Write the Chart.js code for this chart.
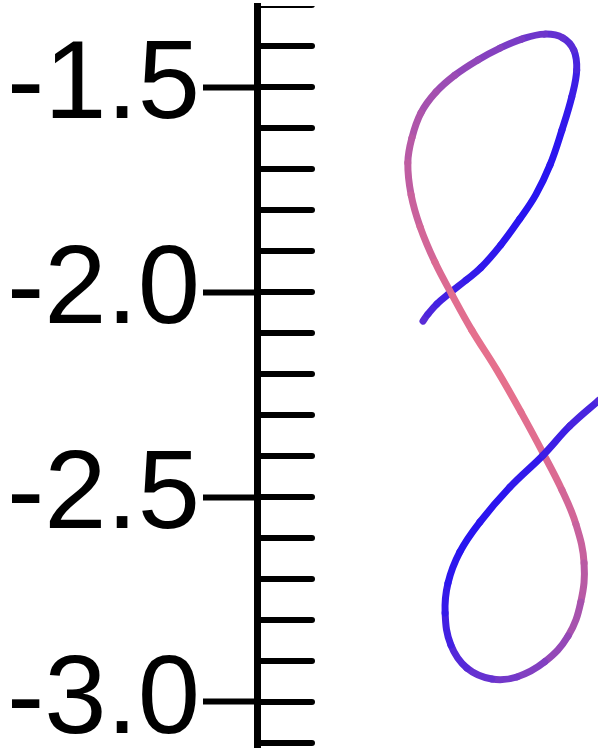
<!DOCTYPE html>
<html>
<head>
<meta charset="utf-8">
<script src="https://cdn.jsdelivr.net/npm/chart.js@4/dist/chart.umd.min.js"></script>
<style>
  html, body { margin: 0; padding: 0; background: #fff; }
  canvas { display: block; }
</style>
</head>
<body>
<canvas id="chart" width="598" height="748"></canvas>
<script>
// curve points, in axis units
const xValues = [
  0.405, 0.417, 0.439, 0.471, 0.510, 0.546, 0.595, 0.641, 0.680, 0.715,
  0.744, 0.768, 0.780, 0.773, 0.746, 0.702, 0.646, 0.593, 0.539, 0.483,
  0.437, 0.400, 0.378, 0.368, 0.376, 0.398, 0.434, 0.476, 0.524, 0.585,
  0.644, 0.698, 0.744, 0.778, 0.798, 0.790, 0.759, 0.702, 0.634, 0.573,
  0.512, 0.473, 0.459, 0.466, 0.495, 0.544, 0.617, 0.698, 0.763, 0.832,
  0.898
];
const yValues = [
  -2.071, -2.054, -2.029, -2.002, -1.971, -1.941, -1.885, -1.822, -1.763, -1.690,
  -1.605, -1.524, -1.459, -1.410, -1.380, -1.371, -1.383, -1.405, -1.434, -1.471,
  -1.512, -1.563, -1.624, -1.685, -1.763, -1.841, -1.927, -2.007, -2.093, -2.190,
  -2.293, -2.393, -2.483, -2.566, -2.661, -2.756, -2.839, -2.902, -2.939, -2.944,
  -2.917, -2.861, -2.783, -2.710, -2.634, -2.561, -2.476, -2.398, -2.327, -2.266,
  -2.210
];
// colour variable along the curve (0 = blue, 1 = pink)
const depth = [
  0.30, 0.22, 0.16, 0.12, 0.08, 0.05, 0.03, 0.00, 0.00, 0.00,
  0.03, 0.08, 0.14, 0.22, 0.28, 0.34, 0.40, 0.46, 0.52, 0.58,
  0.63, 0.68, 0.73, 0.77, 0.82, 0.87, 0.92, 0.96, 0.99, 1.00,
  0.99, 0.96, 0.92, 0.87, 0.80, 0.72, 0.62, 0.52, 0.43, 0.36,
  0.28, 0.18, 0.10, 0.04, 0.00, 0.00, 0.03, 0.08, 0.14, 0.20,
  0.26
];
const yTickValues = [-1.5, -2.0, -2.5, -3.0];
const yMinorTicks = [
  -1.3, -1.4, -1.5, -1.6, -1.7, -1.8, -1.9, -2.0, -2.1, -2.2,
  -2.3, -2.4, -2.5, -2.6, -2.7, -2.8, -2.9, -3.0, -3.1
];

const blue = [40, 20, 240];
const pink = [230, 112, 140];

function mix(t) {
  const c = blue.map((b, i) => Math.round(b + (pink[i] - b) * t));
  return `rgb(${c[0]}, ${c[1]}, ${c[2]})`;
}

const points = xValues.map((x, i) => ({ x: x, y: yValues[i] }));

// short ticks on the right side of the y axis line
const minorTickPlugin = {
  id: 'minorTicks',
  afterDraw(chart) {
    const scale = chart.scales.y;
    const area = chart.chartArea;
    const ctx = chart.ctx;
    ctx.save();
    ctx.beginPath();
    ctx.rect(0, area.top, chart.width, area.bottom - area.top);
    ctx.clip();
    ctx.strokeStyle = '#000';
    ctx.lineWidth = 6;
    ctx.lineCap = 'round';
    yMinorTicks.forEach(v => {
      const py = scale.getPixelForValue(v);
      ctx.beginPath();
      ctx.moveTo(scale.right, py);
      ctx.lineTo(scale.right + 55, py);
      ctx.stroke();
    });
    ctx.restore();
  }
};

new Chart(document.getElementById('chart'), {
  type: 'scatter',
  data: {
    datasets: [{
      data: points,
      showLine: true,
      pointRadius: 0,
      borderWidth: 7,
      borderCapStyle: 'round',
      borderJoinStyle: 'round',
      tension: 0.4,
      borderColor: mix(0.5),
      segment: {
        borderColor: ctx => mix((depth[ctx.p0DataIndex] + depth[ctx.p1DataIndex]) / 2)
      }
    }]
  },
  options: {
    responsive: false,
    animation: false,
    layout: { padding: { top: 6, left: 0, right: 0, bottom: 0 } },
    plugins: { legend: { display: false }, tooltip: { enabled: false } },
    scales: {
      x: { type: 'linear', display: false, min: 0, max: 0.832 },
      y: {
        type: 'linear',
        min: -3.1122,
        max: -1.3024,
        afterFit: scale => {
          scale.width = 257;
          scale.paddingTop = 0;
          scale.paddingBottom = 0;
        },
        afterBuildTicks: scale => { scale.ticks = yTickValues.map(v => ({ value: v })); },
        border: { display: true, color: '#000', width: 7 },
        grid: { drawOnChartArea: false, drawTicks: true, tickLength: 54, tickWidth: 6, tickColor: '#000' },
        ticks: {
          padding: 3,
          color: '#000',
          font: { family: 'Liberation Sans', size: 112 },
          callback: v => v.toFixed(1)
        }
      }
    }
  },
  plugins: [minorTickPlugin]
});
</script>
</body>
</html>
